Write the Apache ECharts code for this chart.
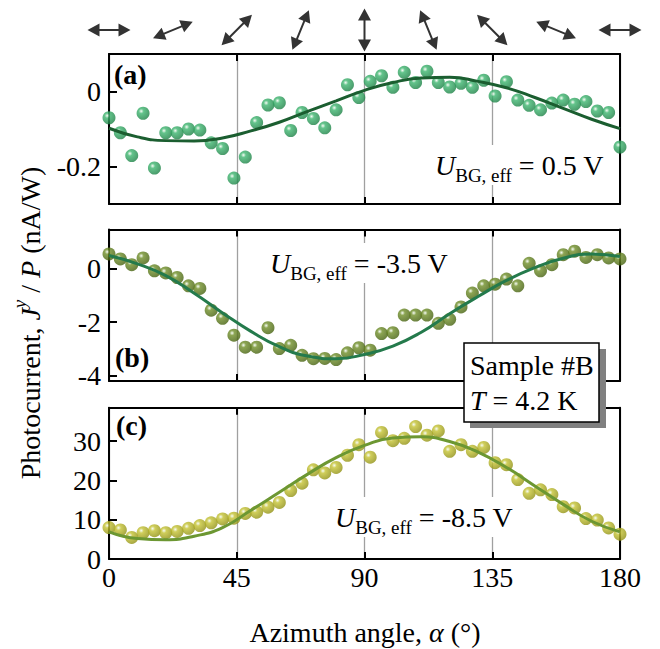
<!DOCTYPE html>
<html><head><meta charset="utf-8">
<script src="https://cdn.jsdelivr.net/npm/echarts@6/dist/echarts.min.js"></script>
<style>html,body{margin:0;padding:0;background:#fff}#c{width:660px;height:649px}</style>
</head><body><div id="c"></div>
<script>
// ---------- data ----------
const angles = [0,4,8,12,16,20,24,28,32,36,40,44,48,52,56,60,64,68,72,76,80,84,88,92,96,100,104,108,112,116,120,124,128,132,136,140,144,148,152,156,160,164,168,172,176,180];
const valuesA = [-0.070,-0.110,-0.171,-0.058,-0.204,-0.110,-0.110,-0.100,-0.103,-0.137,-0.152,-0.231,-0.175,-0.083,-0.036,-0.030,-0.104,-0.056,-0.072,-0.097,-0.049,0.018,-0.016,0.027,0.042,0.011,0.051,0.024,0.054,0.024,0.012,0.022,0.011,0.030,-0.012,0.026,-0.023,-0.037,-0.049,-0.031,-0.023,-0.034,-0.027,-0.052,-0.056,-0.148];
const valuesB = [0.54,0.35,0.14,0.39,-0.09,-0.17,-0.34,-0.65,-0.75,-1.56,-1.86,-2.49,-2.94,-2.94,-2.21,-2.99,-2.87,-3.24,-3.37,-3.36,-3.40,-3.15,-2.96,-3.05,-2.43,-2.40,-1.74,-1.74,-1.74,-2.05,-1.90,-1.44,-0.92,-0.65,-0.59,-0.40,-0.65,0.19,-0.09,0.14,0.51,0.64,0.41,0.51,0.39,0.35];
const valuesC = [8.0,7.4,5.5,6.7,7.2,6.7,7.0,7.8,8.5,9.2,10.2,10.4,11.6,11.9,13.2,14.4,17.4,19.3,22.7,21.9,23.3,26.4,29.1,25.9,32.2,30.1,30.7,33.7,31.5,32.6,27.4,29.1,27.4,28.4,24.5,24.0,20.2,16.7,17.6,16.4,13.3,13.0,10.3,9.9,7.9,6.3];
const fitAngles = [0,10,20,30,40,50,60,70,80,90,100,110,120,130,140,150,160,170,180];
const fitA = [-0.098,-0.121,-0.131,-0.132,-0.124,-0.105,-0.082,-0.053,-0.025,0.003,0.024,0.036,0.038,0.027,0.010,-0.016,-0.045,-0.074,-0.099];
const fitB = [0.48,0.17,-0.27,-0.93,-1.66,-2.35,-2.92,-3.27,-3.37,-3.21,-2.90,-2.38,-1.69,-1.05,-0.45,0.03,0.38,0.54,0.44];
const fitC = [6.9,5.2,4.9,5.8,8.0,12.4,17.0,21.6,25.8,28.9,30.8,31.1,29.9,27.2,23.3,18.6,13.9,9.6,6.9];
const yTicksA = [-0.2, 0];
const yTicksB = [-4, -2, 0];
const yTicksC = [0, 10, 20, 30];
const arrowAngles = [0,22.5,45,67.5,90,112.5,135,157.5,180];
const labelsU = ['= 0.5 V', '= -3.5 V', '= -8.5 V'];

// ---------- chart ----------
const FONT = "'Liberation Serif', 'Times New Roman', serif";
const chart = echarts.init(document.getElementById('c'), null, {renderer: 'svg'});
const LEFT = 109, RIGHT = 40;
const grids = [
  {left: LEFT, right: RIGHT, top: 8, height: 44},
  {left: LEFT, right: RIGHT, top: 54, height: 150},
  {left: LEFT, right: RIGHT, top: 229.5, height: 151.5},
  {left: LEFT, right: RIGHT, top: 407.7, height: 151.3}
];
const blackLine = {color: '#000', width: 2};
function xBottom(gi, showLabels) {
  return {gridIndex: gi, type: 'value', min: 0, max: 180, interval: 45, position: 'bottom',
    axisLine: {onZero: false, lineStyle: blackLine},
    axisTick: {inside: true, length: 7, lineStyle: blackLine},
    axisLabel: {show: showLabels, fontFamily: FONT, fontSize: 28, color: '#000', margin: 4},
    splitLine: {show: true, lineStyle: {color: '#a0a0a0', width: 1.3}}};
}
function xTop(gi) {
  return {gridIndex: gi, type: 'value', min: 0, max: 180, interval: 45, position: 'top',
    axisLine: {onZero: false, lineStyle: blackLine},
    axisTick: {inside: true, length: 7, lineStyle: blackLine},
    axisLabel: {show: false}, splitLine: {show: false}};
}
function yLeft(gi, min, max, ticks) {
  return {gridIndex: gi, type: 'value', min: min, max: max, position: 'left',
    axisLine: {show: true, onZero: false, lineStyle: blackLine},
    axisTick: {show: true, inside: true, length: 8, customValues: ticks, lineStyle: blackLine},
    axisLabel: {customValues: ticks, fontFamily: FONT, fontSize: 28, color: '#000', margin: 8},
    splitLine: {show: false}};
}
function yRight(gi, min, max) {
  return {gridIndex: gi, type: 'value', min: min, max: max, position: 'right',
    axisLine: {show: true, onZero: false, lineStyle: blackLine},
    axisTick: {show: false}, axisLabel: {show: false}, splitLine: {show: false}};
}
function sphere(base, dark) {
  return {type: 'radial', x: 0.36, y: 0.34, r: 0.68,
    colorStops: [{offset: 0, color: '#f4fbf2'}, {offset: 0.28, color: base}, {offset: 1, color: dark}]};
}
function pts(xs, ys) { return xs.map((a, i) => [a, ys[i]]); }

const xAxes = [
  {gridIndex: 0, type: 'value', min: 0, max: 180, show: false},
  xBottom(1, false), xTop(1),
  xBottom(2, false), xTop(2),
  xBottom(3, true), xTop(3)
];
const yAxes = [
  {gridIndex: 0, type: 'value', min: 0, max: 1, show: false},
  yLeft(1, -0.3, 0.1, yTicksA), yRight(1, -0.3, 0.1),
  yLeft(2, -4.2, 1.45, yTicksB), yRight(2, -4.2, 1.45),
  yLeft(3, 0, 38.5, yTicksC), yRight(3, 0, 38.5)
];

const panels = [
  {vals: valuesA, fit: fitA, xi: 1, yi: 1, base: '#3db56f', dark: '#1d8246', line: '#1b5e30'},
  {vals: valuesB, fit: fitB, xi: 3, yi: 3, base: '#6f8e28', dark: '#46620f', line: '#247a4c'},
  {vals: valuesC, fit: fitC, xi: 5, yi: 5, base: '#c4c232', dark: '#929214', line: '#6c9732'}
];
const series = [{
  type: 'scatter', xAxisIndex: 0, yAxisIndex: 0, silent: true,
  symbol: 'path://M0,6.5L12,0L12,5.5L31,5.5L31,0L43,6.5L31,13L31,7.5L12,7.5L12,13Z',
  symbolSize: [43, 13],
  itemStyle: {color: '#000'},
  data: arrowAngles.map(a => ({value: [a, 0.5], symbolRotate: a}))
}];
panels.forEach(p => {
  series.push({type: 'scatter', xAxisIndex: p.xi, yAxisIndex: p.yi, clip: false, z: 2,
    symbolSize: 13, itemStyle: {color: sphere(p.base, p.dark)}, data: pts(angles, p.vals)});
  series.push({type: 'line', xAxisIndex: p.xi, yAxisIndex: p.yi, z: 3, smooth: true, showSymbol: false,
    lineStyle: {color: p.line, width: 3}, data: pts(fitAngles, p.fit)});
});

const rich = {
  n: {fontFamily: FONT, fontSize: 28, lineHeight: 40, color: '#000'},
  i: {fontFamily: FONT, fontSize: 28, fontStyle: 'italic', lineHeight: 40, color: '#000'},
  s: {fontFamily: FONT, fontSize: 19, lineHeight: 18, verticalAlign: 'bottom', color: '#000'},
  p: {fontFamily: FONT, fontSize: 19, fontStyle: 'italic', lineHeight: 28, verticalAlign: 'top', color: '#000'}
};
function uText(x, y, val) {
  return {type: 'text', x: x, y: y, z: 20,
    style: {text: '{i|U}{s|BG, eff}{n| ' + val + '}', rich: rich, fontFamily: FONT, align: 'left', verticalAlign: 'top',
      backgroundColor: '#fff', padding: [0, 2, 0, 0]}};
}
function panelLabel(x, y, t) {
  return {type: 'text', x: x, y: y, z: 20,
    style: {text: t, fontFamily: FONT, fontSize: 28, fontWeight: 'bold', fill: '#000', align: 'left', verticalAlign: 'middle'}};
}
const graphic = [
  uText(435, 145, labelsU[0]),
  uText(270, 243, labelsU[1]),
  uText(335, 497, labelsU[2]),
  panelLabel(114, 74, '(a)'),
  panelLabel(115, 357, '(b)'),
  panelLabel(116, 425, '(c)'),
  {type: 'rect', z: 30, shape: {x: 470, y: 349, width: 136, height: 79}, style: {fill: '#808080'}},
  {type: 'rect', z: 31, shape: {x: 464, y: 343, width: 135, height: 79}, style: {fill: '#fff', stroke: '#000', lineWidth: 1.5}},
  {type: 'text', z: 32, x: 470, y: 365, style: {text: 'Sample #B', fontFamily: FONT, fontSize: 28, fill: '#000', align: 'left', verticalAlign: 'middle'}},
  {type: 'text', z: 32, x: 470, y: 400, style: {text: '{i|T}{n| = 4.2 K}', rich: rich, fontFamily: FONT, align: 'left', verticalAlign: 'middle'}},
  {type: 'text', z: 20, x: 30, y: 323, rotation: Math.PI / 2,
    style: {text: '{n|Photocurrent, }{i|J}{p|y}{n| / }{i|P}{n| (nA/W)}', rich: rich, fontFamily: FONT, align: 'center', verticalAlign: 'middle'}},
  {type: 'text', z: 20, x: 365, y: 632,
    style: {text: '{n|Azimuth angle, }{i|α}{n| (°)}', rich: rich, fontFamily: FONT, align: 'center', verticalAlign: 'middle'}}
];

chart.setOption({
  animation: false,
  backgroundColor: '#fff',
  textStyle: {fontFamily: FONT},
  grid: grids,
  xAxis: xAxes,
  yAxis: yAxes,
  series: series,
  graphic: graphic
});
</script>
</body></html>
